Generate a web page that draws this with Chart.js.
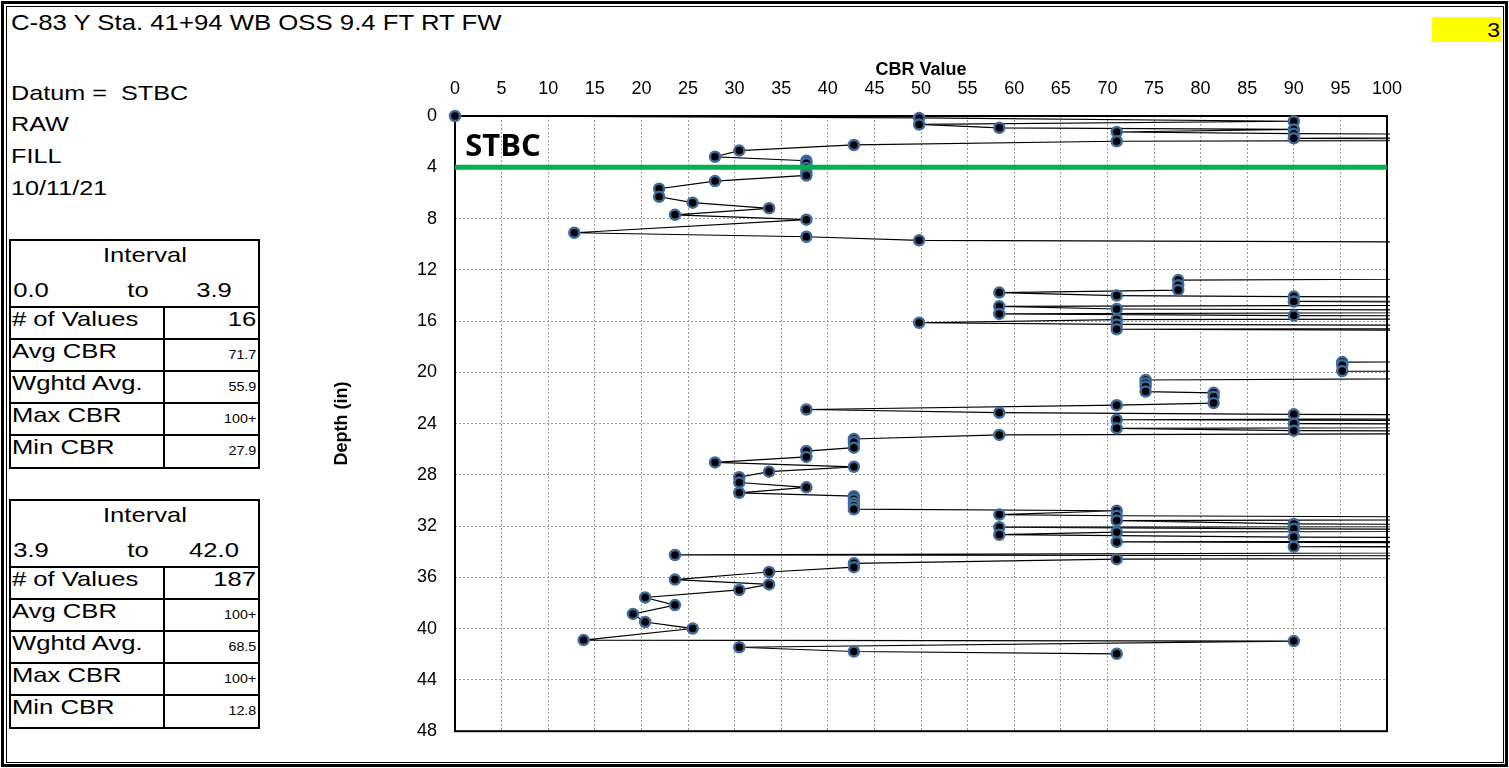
<!DOCTYPE html>
<html>
<head>
<meta charset="utf-8">
<title>C-83 Y Sta. 41+94 WB OSS 9.4 FT RT FW</title>
<script src="https://cdn.jsdelivr.net/npm/chart.js@4.4.1/dist/chart.umd.min.js"></script>
<style>
  html, body { margin: 0; padding: 0; background: #fff; }
  body { width: 1509px; height: 768px; position: relative; overflow: hidden;
         font-family: "Liberation Sans", Arial, sans-serif; color: #000; }
  .frame { position: absolute; left: 1px; top: 1px; width: 1507px; height: 766px;
           box-sizing: border-box; border: 3px solid #000; }
  .inner { position: absolute; left: 6px; top: 6px; width: 1498px; height: 757px;
           box-sizing: border-box; border: 1px solid #000; }
  .t { position: absolute; white-space: pre; line-height: 1; }
  .ln { position: absolute; background: #000; }
  #flag { position: absolute; left: 1432px; top: 17px; width: 69px; height: 25px; background: #ffff00; }
  #chartBox { position: absolute; left: 300px; top: 50px; width: 1200px; height: 710px; }
</style>
</head>
<body>
<div class="frame"></div>
<div class="inner"></div>
<div id="flag"></div>
<div id="chartBox"><canvas id="cbrChart"></canvas></div>

<script>
// ---- data (depth in inches, CBR) ----
// values above 100 run off the right edge of the plot, estimated from the line slopes
const depthIn = [
  0.00, 0.15, 0.41, 0.66, 0.92, 1.05, 1.25, 1.38, 1.55, 1.74, 1.85, 1.97, 2.26, 2.70, 3.18, 3.49, 3.69,
  4.05, 4.45, 4.64, 5.08, 5.67, 6.30, 6.76, 7.20, 7.71, 8.09, 9.11, 9.42, 9.70,
  9.95, 10.30, 10.70, 11.10, 11.50, 11.90, 12.30, 12.60,
  12.80, 13.20, 13.58, 13.78, 14.01, 14.09, 14.28, 14.47, 14.66, 14.85, 15.06, 15.25, 15.44, 15.57,
  15.75, 15.88, 16.13, 16.26, 16.45, 16.64, 16.90, 17.40, 17.90, 18.40, 18.90,
  19.20, 19.45, 19.90, 20.20, 20.60, 20.85, 21.10, 21.50, 21.60, 21.90, 22.40, 22.56, 22.90,
  23.15, 23.28, 23.45, 23.70, 23.85, 24.00, 24.20, 24.37, 24.55, 24.70, 24.88,
  25.20, 25.45, 25.88, 26.14, 26.60, 27.03, 27.37, 27.75, 28.18, 28.60, 28.97, 29.40,
  29.66, 29.90, 30.20, 30.40, 30.68, 30.80, 31.10, 31.19, 31.40, 31.57, 31.83, 32.00, 32.08,
  32.21, 32.35, 32.47, 32.67, 32.85, 33.05, 33.23, 33.40, 33.61, 33.90, 34.25, 34.40, 34.58,
  34.90, 35.20, 35.58, 36.17, 36.55, 36.98, 37.57, 38.16, 38.85, 39.48, 39.99,
  40.89, 40.97, 41.45, 41.78, 41.96
];
const cbrValue = [
  0, 49.8, 90, 49.8, 58.4, 90, 71, 90, 160, 90, 150, 71, 42.8, 30.5, 27.9, 37.7, 37.7,
  37.7, 37.7, 37.7, 27.9, 21.9, 21.9, 25.5, 33.7, 23.6, 37.7, 12.8, 37.7, 49.8,
  160, 190, 220, 250, 230, 210, 180, 150,
  77.6, 77.6, 77.6, 58.4, 71, 90, 180, 90, 160, 58.4, 71, 150, 58.4, 90,
  200, 71, 49.8, 71, 170, 71, 200, 240, 260, 230, 200,
  95.2, 95.2, 95.2, 200, 74.1, 74.1, 74.1, 74.1, 81.4, 81.4, 81.4, 71, 37.7,
  58.4, 90, 170, 71, 150, 90, 180, 71, 90, 160, 58.4,
  42.8, 42.8, 42.8, 37.7, 37.7, 27.9, 42.8, 33.7, 30.5, 30.5, 37.7, 30.5,
  42.8, 42.8, 42.8, 42.8, 42.8, 71, 58.4, 71, 150, 71, 90, 170, 58.4,
  90, 140, 71, 58.4, 90, 180, 71, 160, 90, 200, 23.6, 210, 71,
  42.8, 42.8, 33.7, 23.6, 33.7, 30.5, 20.4, 23.6, 19.1, 20.4, 25.5,
  13.8, 90, 30.5, 42.8, 71
];
const datumDepth = 4;
const datumLabel = "STBC";

const headerLines = ["Datum =  STBC", "RAW", "FILL", "10/11/21"];
const intervalA = ["0.0", "3.9"];
const intervalB = ["3.9", "42.0"];
const statLabels = ["# of Values", "Avg CBR", "Wghtd Avg.", "Max CBR", "Min CBR"];
const statsA = ["16", "71.7", "55.9", "100+", "27.9"];
const statsB = ["187", "100+", "68.5", "100+", "12.8"];

// ---- page text ----
function put(str, x, base, size, opt) {
  opt = opt || {};
  const d = document.createElement("div");
  d.className = "t";
  d.textContent = str;
  d.style.fontSize = size + "px";
  if (opt.bold) d.style.fontWeight = "bold";
  d.style.top = (base - 0.8465 * size) + "px";
  const sx = opt.sx || 1;
  if (opt.align === "right") {
    d.style.right = (1509 - x) + "px";
    d.style.transformOrigin = "100% 50%";
    d.style.transform = "scaleX(" + sx + ")";
  } else if (opt.align === "center") {
    d.style.left = x + "px";
    d.style.transformOrigin = "50% 50%";
    d.style.transform = "translateX(-50%) scaleX(" + sx + ")";
  } else {
    d.style.left = x + "px";
    d.style.transformOrigin = "0 50%";
    d.style.transform = "scaleX(" + sx + ")";
  }
  document.body.appendChild(d);
}
function line(x, y, w, h) {
  const d = document.createElement("div");
  d.className = "ln";
  d.style.left = x + "px"; d.style.top = y + "px";
  d.style.width = w + "px"; d.style.height = h + "px";
  document.body.appendChild(d);
}

put("C-83 Y Sta. 41+94 WB OSS 9.4 FT RT FW", 11, 31, 22, { sx: 1.17 });
put("3", 1500, 37, 20, { align: "right", sx: 1.15 });
[100, 130.5, 162.5, 194.5].forEach((b, i) => put(headerLines[i], 11, b, 21, { sx: 1.2 }));

function statTable(top, range, vals) {
  const L = 9, R = 260, rowH = 32, head = 67;
  const bottom = top + head + rowH * 5 + 1;
  line(L, top, R - L, 2); line(L, bottom, R - L + 0, 2);
  line(L, top, 2, bottom - top + 2); line(R - 2, top, 2, bottom - top + 2);
  line(163, top + head, 2, bottom - top - head);
  put("Interval", 145, top + 23, 21, { align: "center", sx: 1.22 });
  put(range[0], 31, top + 58, 21, { align: "center", sx: 1.22 });
  put("to", 138, top + 58, 21, { align: "center", sx: 1.22 });
  put(range[1], 214, top + 58, 21, { align: "center", sx: 1.22 });
  for (let i = 0; i < 5; i++) {
    const rt = top + head + rowH * i;
    line(L, rt, R - L, 2);
    put(statLabels[i], 12, rt + 20, 21, { sx: 1.22 });
    if (i === 0) put(vals[i], 256, rt + 20, 21, { align: "right", sx: 1.22 });
    else put(vals[i], 256, rt + 21, 13, { align: "right", sx: 1.1 });
  }
}
statTable(239, intervalA, statsA);
statTable(499, intervalB, statsB);

// ---- chart ----
const points = depthIn.map((d, i) => ({ x: cbrValue[i], y: d }));
const tickFont = { family: "Liberation Sans", size: 18 };

const plotFrame = {
  id: "plotFrame",
  beforeDatasetsDraw(chart) {
    const { ctx, chartArea: a } = chart;
    ctx.save();
    ctx.strokeStyle = "#000";
    ctx.lineWidth = 2;
    ctx.strokeRect(a.left, a.top, a.right - a.left, a.bottom - a.top);
    ctx.restore();
  },
  afterDatasetsDraw(chart) {
    const { ctx, scales } = chart;
    ctx.save();
    ctx.fillStyle = "#000";
    ctx.font = 'bold 31px "Open Sans"';
    ctx.textBaseline = "alphabetic";
    ctx.fillText(datumLabel, scales.x.getPixelForValue(1.1), scales.y.getPixelForValue(3.14));
    ctx.restore();
  }
};

new Chart(document.getElementById("cbrChart"), {
  type: "scatter",
  data: {
    datasets: [
      {
        label: "Datum",
        data: [{ x: 0, y: datumDepth }, { x: 100, y: datumDepth }],
        showLine: true,
        borderColor: "#00b050",
        borderWidth: 5,
        pointRadius: 0,
        clip: { left: 0, top: 0, right: 4, bottom: 0 },
        order: 1
      },
      {
        label: "CBR",
        data: points,
        showLine: true,
        borderColor: "#000",
        borderWidth: 1.2,
        tension: 0,
        pointRadius: 5,
        pointBackgroundColor: "#000",
        pointBorderColor: "#3f6a9c",
        pointBorderWidth: 2.5,
        clip: { left: 10, top: 10, right: 3, bottom: 10 },
        order: 2
      }
    ]
  },
  options: {
    responsive: true,
    maintainAspectRatio: false,
    animation: false,
    layout: { padding: { left: 0, top: 0, right: 113, bottom: 17 } },
    plugins: { legend: { display: false }, tooltip: { enabled: false } },
    scales: {
      x: {
        type: "linear",
        position: "top",
        min: 0,
        max: 100,
        ticks: { stepSize: 5, autoSkip: false, maxRotation: 0, padding: 16, color: "#000", font: tickFont },
        grid: { color: "#9a9a9a", lineWidth: 1, drawTicks: false },
        border: { display: false, dash: [2, 2] },
        title: {
          display: true, text: "CBR Value", color: "#000",
          font: { family: "Liberation Sans", size: 18, weight: "bold" },
          padding: { top: 9, bottom: 0 }
        },
        afterFit(scale) { scale.height = 66; }
      },
      y: {
        type: "linear",
        reverse: true,
        min: 0,
        max: 48,
        ticks: { stepSize: 4, padding: 18, color: "#000", font: tickFont },
        grid: { color: "#9a9a9a", lineWidth: 1, drawTicks: false },
        border: { display: false, dash: [2, 2] },
        title: {
          display: true, text: "Depth (in)", color: "#000",
          font: { family: "Liberation Sans", size: 18, weight: "bold" },
          padding: { top: 31, bottom: 0 }
        },
        afterFit(scale) { scale.width = 155; }
      }
    }
  },
  plugins: [plotFrame]
});
</script>
</body>
</html>
